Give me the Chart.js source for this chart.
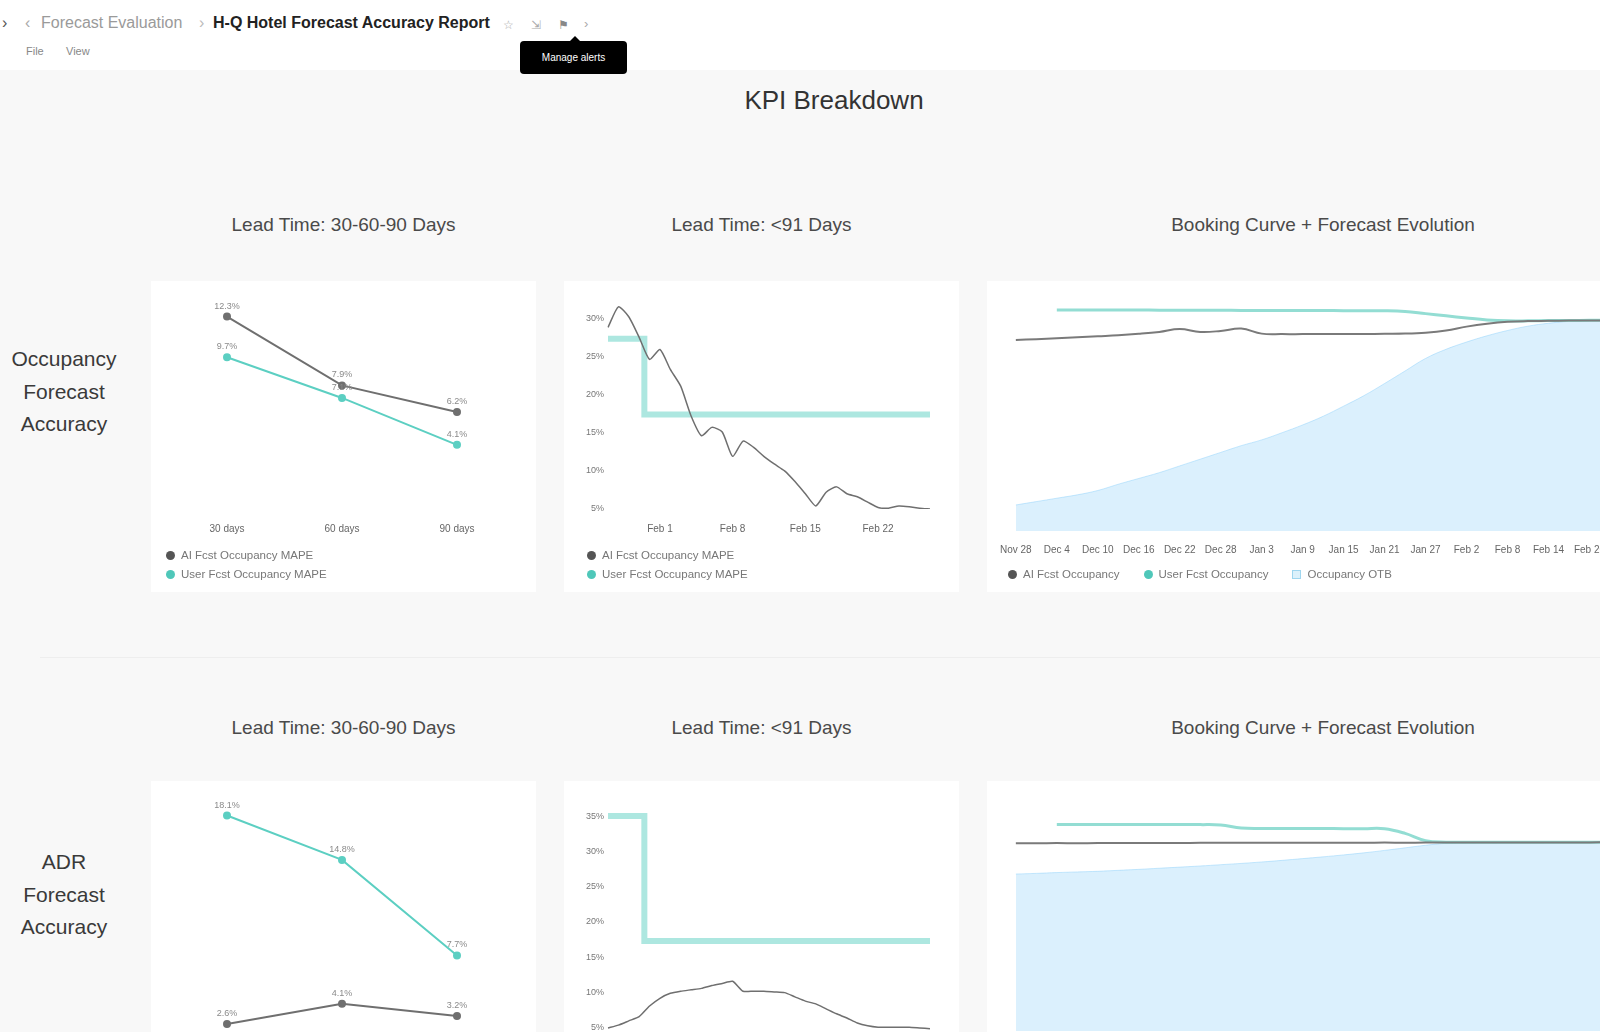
<!DOCTYPE html>
<html>
<head>
<meta charset="utf-8">
<title>KPI Breakdown</title>
<script src="https://cdn.jsdelivr.net/npm/chart.js@4.4.1/dist/chart.umd.min.js"></script>
<style>
  body { margin: 0; width: 1600px; height: 1032px; overflow: hidden; position: relative;
         background: #f8f8f8; font-family: "Liberation Sans", Arial, sans-serif; color: #333; }
  .abs { position: absolute; white-space: nowrap; }
  .header { position: absolute; left: 0; top: 0; width: 1600px; height: 70px; background: #fff; }
  .crumb { font-size: 16px; line-height: 18px; top: 14px; }
  .menu { font-size: 11px; color: #888; top: 45px; line-height: 12px; }
  .tip { left: 520px; top: 41px; width: 107px; height: 33px; background: #000; color: #fff; border-radius: 4px;
         font-size: 10px; line-height: 33px; text-align: center; }
  .tip:before { content: ""; position: absolute; left: 50px; top: -5px; border: 5px solid transparent;
                border-top: 0; border-bottom-color: #000; }
  .title { left: 634px; width: 400px; top: 84px; font-size: 26px; line-height: 32px; text-align: center; color: #333; }
  .rowlabel { left: 0; width: 128px; font-size: 21px; line-height: 32.5px; text-align: center; color: #3a3a3a; white-space: normal; }
  .ctitle { font-size: 19px; line-height: 22px; text-align: center; color: #4a4a4a; }
  .card { position: absolute; background: #fff; }
  .card canvas { position: absolute; left: 0; top: 0; }
  .legend { position: absolute; font-size: 11.5px; color: #777; }
  .legend .item { height: 19px; line-height: 19px; display: flex; align-items: center; white-space: nowrap; }
  .legend.inline { display: flex; }
  .legend.inline .item { margin-right: 24px; }
  .dot { width: 9px; height: 9px; border-radius: 50%; margin-right: 6px; }
  .box { width: 9px; height: 9px; margin-right: 6px; border: 1px solid #9fd6ef; background: #dcf1fb; box-sizing: border-box; }
  .sep { left: 40px; top: 657px; width: 1560px; height: 1px; background: #eee; }
</style>
</head>
<body>

<div class="header">
  <div class="abs crumb" style="left:2px;color:#555">›</div>
  <div class="abs crumb" style="left:25px;color:#aaa">‹</div>
  <div class="abs crumb" style="left:41px;color:#9a9a9a">Forecast Evaluation</div>
  <div class="abs crumb" style="left:199px;color:#bbb">›</div>
  <div class="abs crumb" style="left:213px;color:#222;font-weight:bold">H-Q Hotel Forecast Accuracy Report</div>
  <div class="abs crumb" style="left:503px;color:#aaa;font-size:12px;top:16px">☆</div>
  <div class="abs crumb" style="left:531px;color:#aaa;font-size:12px;top:16px">⇲</div>
  <div class="abs crumb" style="left:558px;color:#888;font-size:12px;top:16px">⚑</div>
  <div class="abs crumb" style="left:584px;color:#aaa;font-size:13px;top:15px">›</div>
  <div class="abs menu" style="left:26px">File</div>
  <div class="abs menu" style="left:66px">View</div>
  <div class="abs tip">Manage alerts</div>
</div>

<div class="abs title">KPI Breakdown</div>

<div class="abs rowlabel" style="top:343px">Occupancy<br>Forecast<br>Accuracy</div>
<div class="abs ctitle" style="left:151px;width:385px;top:214px">Lead Time: 30-60-90 Days</div>
<div class="abs ctitle" style="left:564px;width:395px;top:214px">Lead Time: &lt;91 Days</div>
<div class="abs ctitle" style="left:987px;width:672px;top:214px">Booking Curve + Forecast Evolution</div>

<div class="card" style="left:151px;top:281px;width:385px;height:311px">
  <canvas id="occLead"></canvas>
  <div class="legend" style="left:15px;top:265px">
    <div class="item"><span class="dot" style="background:#555"></span>AI Fcst Occupancy MAPE</div>
    <div class="item"><span class="dot" style="background:#4fc7b9"></span>User Fcst Occupancy MAPE</div>
  </div>
</div>
<div class="card" style="left:564px;top:281px;width:395px;height:311px">
  <canvas id="occDaily"></canvas>
  <div class="legend" style="left:23px;top:265px">
    <div class="item"><span class="dot" style="background:#555"></span>AI Fcst Occupancy MAPE</div>
    <div class="item"><span class="dot" style="background:#4fc7b9"></span>User Fcst Occupancy MAPE</div>
  </div>
</div>
<div class="card" style="left:987px;top:281px;width:672px;height:311px">
  <canvas id="occCurve"></canvas>
  <div class="legend inline" style="left:21px;top:284px">
    <div class="item"><span class="dot" style="background:#555"></span>AI Fcst Occupancy</div>
    <div class="item"><span class="dot" style="background:#4fc7b9"></span>User Fcst Occupancy</div>
    <div class="item"><span class="box"></span>Occupancy OTB</div>
  </div>
</div>

<div class="abs sep"></div>

<div class="abs rowlabel" style="top:846px">ADR<br>Forecast<br>Accuracy</div>
<div class="abs ctitle" style="left:151px;width:385px;top:717px">Lead Time: 30-60-90 Days</div>
<div class="abs ctitle" style="left:564px;width:395px;top:717px">Lead Time: &lt;91 Days</div>
<div class="abs ctitle" style="left:987px;width:672px;top:717px">Booking Curve + Forecast Evolution</div>

<div class="card" style="left:151px;top:781px;width:385px;height:360px">
  <canvas id="adrLead"></canvas>
</div>
<div class="card" style="left:564px;top:781px;width:395px;height:360px">
  <canvas id="adrDaily"></canvas>
</div>
<div class="card" style="left:987px;top:781px;width:672px;height:360px">
  <canvas id="adrCurve"></canvas>
</div>

<script>
// ---- data ----
const leadLabels = ['30 days', '60 days', '90 days'];
const occLeadAi = [12.3, 7.9, 6.2];
const occLeadUser = [9.7, 7.1, 4.1];
const adrLeadAi = [2.6, 4.1, 3.2];
const adrLeadUser = [18.1, 14.8, 7.7];

const dayLabels = ['Jan 27', 'Jan 28', 'Jan 29', 'Jan 30', 'Jan 31',
  'Feb 1', 'Feb 2', 'Feb 3', 'Feb 4', 'Feb 5', 'Feb 6', 'Feb 7', 'Feb 8', 'Feb 9', 'Feb 10',
  'Feb 11', 'Feb 12', 'Feb 13', 'Feb 14', 'Feb 15', 'Feb 16', 'Feb 17', 'Feb 18', 'Feb 19',
  'Feb 20', 'Feb 21', 'Feb 22', 'Feb 23', 'Feb 24', 'Feb 25', 'Feb 26', 'Feb 27'];
const shownDays = ['Feb 1', 'Feb 8', 'Feb 15', 'Feb 22'];
const occDailyAi = [28.8, 31.5, 30.2, 27.5, 24.6, 25.9, 23.3, 21.1, 17.2, 14.6, 15.7, 15.1, 11.9, 13.9, 13.1, 11.9,
  10.9, 10.0, 8.6, 7.0, 5.4, 7.2, 7.9, 7.0, 6.6, 5.9, 5.2, 5.1, 5.4, 5.3, 5.1, 5.0];
const occDailyUser = [27.3, 27.3, 27.3, 27.3, 17.4, 17.4, 17.4, 17.4, 17.4, 17.4, 17.4, 17.4, 17.4, 17.4, 17.4, 17.4,
  17.4, 17.4, 17.4, 17.4, 17.4, 17.4, 17.4, 17.4, 17.4, 17.4, 17.4, 17.4, 17.4, 17.4, 17.4, 17.4];
const occDailyTicks = [5, 10, 15, 20, 25, 30];
const adrDailyAi = [5.0, 5.4, 6.0, 6.6, 8.1, 9.2, 9.9, 10.2, 10.4, 10.6, 11.0, 11.3, 11.6, 10.2, 10.2, 10.2,
  10.1, 10.0, 9.4, 8.8, 8.4, 7.7, 7.0, 6.4, 5.7, 5.3, 5.1, 5.1, 5.1, 5.1, 5.0, 4.9];
const adrDailyUser = [35.0, 35.0, 35.0, 35.0, 17.3, 17.3, 17.3, 17.3, 17.3, 17.3, 17.3, 17.3, 17.3, 17.3, 17.3, 17.3,
  17.3, 17.3, 17.3, 17.3, 17.3, 17.3, 17.3, 17.3, 17.3, 17.3, 17.3, 17.3, 17.3, 17.3, 17.3, 17.3];
const adrDailyTicks = [5, 10, 15, 20, 25, 30, 35];

const curveDates = ['Nov 28', 'Dec 1', 'Dec 4', 'Dec 7', 'Dec 10', 'Dec 13', 'Dec 16', 'Dec 19', 'Dec 22', 'Dec 25',
  'Dec 28', 'Dec 31', 'Jan 3', 'Jan 6', 'Jan 9', 'Jan 12', 'Jan 15', 'Jan 18', 'Jan 21', 'Jan 24', 'Jan 27',
  'Jan 30', 'Feb 2', 'Feb 5', 'Feb 8', 'Feb 11', 'Feb 14', 'Feb 17', 'Feb 20', 'Feb 23', 'Feb 26'];
const occCurveAi = [79.3, 79.6, 80.0, 80.4, 80.8, 81.2, 81.8, 82.6, 83.8, 82.6, 83.0, 84.0, 81.9, 81.7, 81.7, 81.7,
  81.7, 81.7, 81.8, 81.9, 82.3, 83.2, 84.8, 86.0, 86.8, 87.1, 87.2, 87.3, 87.3, 87.4, 87.4];
const occCurveUser = [null, null, 91.7, 91.7, 91.7, 91.7, 91.7, 91.6, 91.6, 91.6, 91.6, 91.5, 91.5, 91.5, 91.5, 91.5,
  91.4, 91.4, 91.4, 91.1, 90.2, 89.3, 88.4, 87.6, 87.2, 87.2, 87.3, 87.3, 87.4, 87.4, 87.4];
const occCurveOtb = [10.8, 12.2, 13.6, 15.0, 16.8, 19.4, 21.8, 24.2, 27.0, 29.8, 32.6, 35.4, 37.8, 40.8, 44.0, 47.6,
  51.8, 56.2, 61.2, 66.4, 71.6, 75.4, 78.4, 81.0, 83.2, 85.0, 86.2, 87.0, 87.3, 87.5, 87.6];
const adrCurveAi = [233.6, 233.7, 233.9, 233.8, 233.9, 234.0, 234.1, 234.0, 234.1, 234.2, 234.3, 234.2, 234.3, 234.3,
  234.4, 234.3, 234.4, 234.4, 234.5, 234.4, 234.5, 234.5, 234.6, 234.6, 234.6, 234.7, 234.7, 234.7, 234.8, 234.8, 234.8];
const adrCurveUser = [null, null, 257.1, 257.1, 257.1, 257.1, 257.1, 257.0, 257.0, 256.9, 256.4, 252.6, 252.0, 252.0,
  252.0, 252.0, 251.9, 251.9, 251.8, 246.0, 237.0, 235.0, 234.9, 234.9, 234.9, 234.9, 235.0, 235.0, 235.0, 235.0, 235.0];
const adrCurveOtb = [195.4, 196.2, 197.2, 198.0, 198.8, 200.0, 201.2, 202.6, 204.0, 205.4, 207.0, 208.6, 210.4, 212.4,
  214.6, 216.8, 219.2, 221.8, 224.8, 228.0, 231.2, 233.6, 234.2, 234.4, 234.5, 234.5, 234.6, 234.6, 234.7, 234.7, 234.8];

// ---- styling ----
const GRAY = '#6f6f6f';
const TEAL = '#5ccfc2';
const TEAL_BAND = 'rgba(92, 207, 194, 0.5)';
const TEAL_SOFT = '#93ddd3';

Chart.defaults.font.family = '"Liberation Sans", Arial, sans-serif';
Chart.defaults.color = '#666';
Chart.defaults.animation = false;
Chart.defaults.responsive = false;
Chart.defaults.plugins.legend.display = false;
Chart.defaults.plugins.tooltip.enabled = false;

// small value labels over the points of the lead time charts
const pointLabels = {
  id: 'pointLabels',
  afterDatasetsDraw(chart) {
    const ctx = chart.ctx;
    ctx.save();
    ctx.font = '9px "Liberation Sans", Arial, sans-serif';
    ctx.fillStyle = '#8a8a8a';
    ctx.textAlign = 'center';
    chart.data.datasets.forEach((ds, i) => {
      chart.getDatasetMeta(i).data.forEach((pt, j) => {
        ctx.fillText(ds.data[j].toFixed(1) + '%', pt.x, pt.y - 8);
      });
    });
    ctx.restore();
  }
};

const xAxis = (extra) => Object.assign({
  grid: { display: false, drawTicks: false },
  border: { display: false },
  ticks: { padding: 14, font: { size: 10 }, color: '#666', maxRotation: 0 }
}, extra);

function makeChart(id, w, h, config) {
  const canvas = document.getElementById(id);
  canvas.width = w;
  canvas.height = h;
  return new Chart(canvas.getContext('2d'), config);
}

function leadChart(id, h, aiData, userData, maxY) {
  makeChart(id, 385, h, {
    type: 'line',
    data: {
      labels: leadLabels,
      datasets: [
        { label: 'AI Fcst', data: aiData, borderColor: GRAY, backgroundColor: GRAY, borderWidth: 2, pointRadius: 3 },
        { label: 'User Fcst', data: userData, borderColor: TEAL, backgroundColor: TEAL, borderWidth: 2, pointRadius: 3 }
      ]
    },
    options: {
      layout: { padding: { left: 76, right: 79, top: 9, bottom: 0 } },
      scales: {
        x: xAxis(),
        y: { display: false, min: 0, max: maxY }
      }
    },
    plugins: [pointLabels]
  });
}

function dailyChart(id, h, aiData, userData, ticks, minY, maxY, padTop) {
  makeChart(id, 395, h, {
    type: 'line',
    data: {
      labels: dayLabels,
      datasets: [
        { label: 'AI Fcst', data: aiData, borderColor: GRAY, borderWidth: 1.5, pointRadius: 0, tension: 0.2 },
        { label: 'User Fcst', data: userData, borderColor: TEAL_BAND, borderWidth: 6, pointRadius: 0, stepped: 'middle' }
      ]
    },
    options: {
      layout: { padding: { left: 0, right: 29, top: padTop, bottom: 0 } },
      scales: {
        x: xAxis({
          ticks: {
            padding: 14, font: { size: 10 }, color: '#666', maxRotation: 0, autoSkip: false,
            callback: (v, i) => shownDays.includes(dayLabels[i]) ? dayLabels[i] : ''
          }
        }),
        y: {
          min: minY, max: maxY,
          grid: { display: false, drawTicks: false },
          border: { display: false },
          afterBuildTicks: (axis) => { axis.ticks = ticks.map(v => ({ value: v })); },
          afterFit: (axis) => { axis.width = 44; },
          ticks: { padding: 4, font: { size: 9 }, color: '#777', callback: v => v + '%' }
        }
      }
    }
  });
}

function curveChart(id, aiData, userData, otbData, maxY) {
  makeChart(id, 672, 288, {
    type: 'line',
    data: {
      labels: curveDates,
      datasets: [
        { label: 'AI Fcst', data: aiData, borderColor: '#7a7a7a', borderWidth: 2, pointRadius: 0, tension: 0.4 },
        { label: 'User Fcst', data: userData, borderColor: TEAL_SOFT, borderWidth: 3, pointRadius: 0, tension: 0.4 },
        { label: 'OTB', data: otbData, fill: 'origin', backgroundColor: 'rgba(135, 206, 250, 0.3)',
          borderColor: 'rgba(135, 206, 250, 0.45)', borderWidth: 1, pointRadius: 0, tension: 0.4 }
      ]
    },
    options: {
      layout: { padding: { left: 23, right: 9, top: 9, bottom: 0 } },
      scales: {
        x: xAxis({
          ticks: {
            padding: 13, font: { size: 10 }, color: '#666', maxRotation: 0, autoSkip: false,
            callback: (v, i) => i % 2 === 0 ? curveDates[i] : ''
          }
        }),
        y: { display: false, min: 0, max: maxY }
      }
    }
  });
}

leadChart('occLead', 268, occLeadAi, occLeadUser, 14);
dailyChart('occDaily', 268, occDailyAi, occDailyUser, occDailyTicks, 5, 32, 22);
curveChart('occCurve', occCurveAi, occCurveUser, occCurveOtb, 100);

leadChart('adrLead', 318, adrLeadAi, adrLeadUser, 20);
dailyChart('adrDaily', 294, adrDailyAi, adrDailyUser, adrDailyTicks, 4, 35.5, 31.5);
curveChart('adrCurve', adrCurveAi, adrCurveUser, adrCurveOtb, 300);
</script>
</body>
</html>
